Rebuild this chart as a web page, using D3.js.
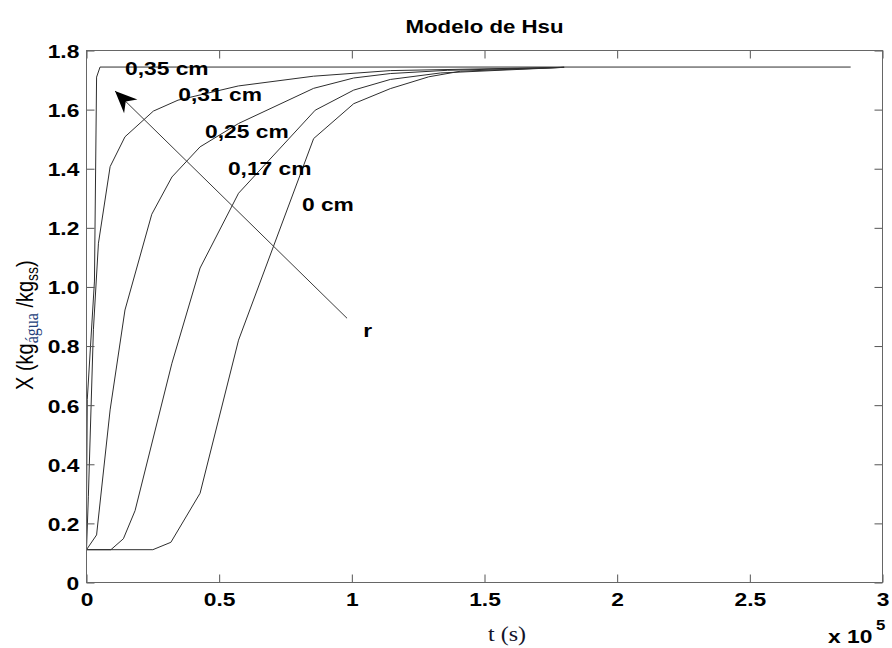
<!DOCTYPE html>
<html>
<head>
<meta charset="utf-8">
<script src="https://cdn.jsdelivr.net/npm/d3@7/dist/d3.min.js"></script>
<style>
  html, body { margin: 0; padding: 0; background: #fff; }
  svg { display: block; }
</style>
</head>
<body>
<svg id="chart" width="892" height="648"></svg>
<script>
// Drying curves (Hsu model): moisture content X vs time t for several radial positions r.
const xTickValues = [0, 50000, 100000, 150000, 200000, 250000, 300000];
const xTickLabels = ["0", "0.5", "1", "1.5", "2", "2.5", "3"];
const yTickValues = [0, 0.2, 0.4, 0.6, 0.8, 1.0, 1.2, 1.4, 1.6, 1.8];
const yTickLabels = ["0", "0.2", "0.4", "0.6", "0.8", "1.0", "1.2", "1.4", "1.6", "1.8"];

const seriesNames = ["0,35 cm", "0,31 cm", "0,25 cm", "0,17 cm", "0 cm"];

// time in seconds, X in kg water / kg dry solid
const t035 = [0, 300, 3000, 3800, 5100, 288000];
const x035 = [0.25, 0.62, 1.02, 1.71, 1.744, 1.744];

const t031 = [0, 700, 2600, 4500, 8900, 14500, 25200, 34500, 57200, 85500, 114500, 180000];
const x031 = [0.111, 0.29, 0.855, 1.148, 1.407, 1.508, 1.595, 1.632, 1.680, 1.713, 1.732, 1.743];

const t025 = [0, 3800, 8900, 14500, 24600, 32200, 42800, 57300, 85600, 100700, 114500, 136000, 180000];
const x025 = [0.111, 0.161, 0.584, 0.922, 1.246, 1.372, 1.474, 1.553, 1.672, 1.707, 1.722, 1.733, 1.743];

const t017 = [0, 9200, 13900, 18300, 32200, 42800, 57300, 86200, 100700, 114500, 133400, 180000];
const x017 = [0.111, 0.111, 0.148, 0.243, 0.742, 1.064, 1.317, 1.598, 1.666, 1.702, 1.724, 1.743];

const t000 = [0, 25000, 31800, 42800, 57300, 85600, 100700, 114500, 129000, 141000, 180000];
const x000 = [0.111, 0.111, 0.136, 0.302, 0.820, 1.502, 1.620, 1.671, 1.711, 1.730, 1.743];

const seriesT = [t035, t031, t025, t017, t000];
const seriesX = [x035, x031, x025, x017, x000];

// ---- layout ----
const svg = d3.select("#chart");
const W = 892, H = 648;
const plotL = 86.5, plotR = 882.5, plotT = 50.5, plotB = 582.5;
const SX = 1.2;                 // horizontal text stretch
const boldFont = "'Liberation Sans', Arial, Helvetica, sans-serif";

svg.append("rect").attr("width", W).attr("height", H).attr("fill", "#fff");

const x = d3.scaleLinear().domain([0, 300000]).range([plotL, plotR]);
const y = d3.scaleLinear().domain([0, 1.8]).range([plotB, plotT]);

// curves
const line = d3.line().x(d => x(d[0])).y(d => y(d[1]));
const curves = svg.append("g").attr("fill", "none").attr("stroke", "#2e2e2e").attr("stroke-width", 1);
seriesT.forEach((ts, i) => {
  const pts = ts.map((t, j) => [t, seriesX[i][j]]);
  curves.append("path").attr("d", line(pts));
});

// axes (ticks pointing inward on all four sides)
const xfmt = d => xTickLabels[xTickValues.indexOf(d)];
const yfmt = d => yTickLabels[yTickValues.indexOf(d)];

const gx = svg.append("g").attr("transform", `translate(0,${plotB})`)
  .call(d3.axisBottom(x).tickValues(xTickValues).tickFormat(xfmt).tickSizeInner(-8).tickSizeOuter(0));
const gy = svg.append("g").attr("transform", `translate(${plotL},0)`)
  .call(d3.axisLeft(y).tickValues(yTickValues).tickFormat(yfmt).tickSizeInner(-8).tickSizeOuter(0));
const gxt = svg.append("g").attr("transform", `translate(0,${plotT})`)
  .call(d3.axisTop(x).tickValues(xTickValues).tickFormat("").tickSizeInner(-8).tickSizeOuter(0));
const gyr = svg.append("g").attr("transform", `translate(${plotR},0)`)
  .call(d3.axisRight(y).tickValues(yTickValues).tickFormat("").tickSizeInner(-8).tickSizeOuter(0));

[gx, gy, gxt, gyr].forEach(g => {
  g.select(".domain").remove();
  g.selectAll(".tick line").attr("stroke", "#555");
});

gx.selectAll("text")
  .attr("y", 10.5).attr("dy", "0.71em")
  .attr("transform", `scale(${SX},1)`)
  .attr("font-family", boldFont).attr("font-weight", "bold").attr("font-size", 19).attr("fill", "#000");
gy.selectAll("text")
  .attr("x", -6).attr("dy", "0.36em")
  .attr("transform", `scale(${SX},1)`)
  .attr("font-family", boldFont).attr("font-weight", "bold").attr("font-size", 19).attr("fill", "#000");

// frame
svg.append("rect")
  .attr("x", plotL).attr("y", plotT).attr("width", plotR - plotL).attr("height", plotB - plotT)
  .attr("fill", "none").attr("stroke", "#666").attr("stroke-width", 1);

// text helper with horizontal stretch
function stretchedText(px, py, str, opts = {}) {
  return svg.append("text")
    .attr("transform", `translate(${px},${py}) scale(${opts.sx || SX},1)`)
    .attr("text-anchor", opts.anchor || "start")
    .attr("font-family", opts.family || boldFont)
    .attr("font-weight", opts.weight || "bold")
    .attr("font-size", opts.size || 19)
    .attr("fill", opts.fill || "#000")
    .text(str);
}

// title
stretchedText((plotL + plotR) / 2, 33, "Modelo de Hsu", { anchor: "middle", size: 19, sx: 1.17 });

// curve labels (time in s, X) of each label's baseline-left corner
const labelSpots = [[14500, 1.716], [34600, 1.628], [44700, 1.503], [53300, 1.378], [81200, 1.256]];
seriesNames.forEach((name, i) => {
  stretchedText(x(labelSpots[i][0]), y(labelSpots[i][1]), name);
});

// direction of increasing r
const arrowFrom = [98200, 0.894], arrowTo = [10750, 1.663];
const ax0 = x(arrowFrom[0]), ay0 = y(arrowFrom[1]), ax1 = x(arrowTo[0]), ay1 = y(arrowTo[1]);
svg.append("line")
  .attr("x1", ax0).attr("y1", ay0).attr("x2", ax1).attr("y2", ay1)
  .attr("stroke", "#3a3a3a").attr("stroke-width", 1);
{
  const dx = ax0 - ax1, dy = ay0 - ay1, L = Math.hypot(dx, dy);
  const ux = dx / L, uy = dy / L, px = -uy, py = ux;
  const len = 22, half = 9.5, notch = 15;
  const p = [
    [ax1, ay1],
    [ax1 + ux * len + px * half, ay1 + uy * len + py * half],
    [ax1 + ux * notch, ay1 + uy * notch],
    [ax1 + ux * len - px * half, ay1 + uy * len - py * half]
  ];
  svg.append("path").attr("d", "M" + p.map(q => q.join(",")).join("L") + "Z").attr("fill", "#000");
}
stretchedText(x(104300), y(0.830), "r");

// x-axis label and exponent
stretchedText(507, 641, "t (s)", { anchor: "middle", family: "'Liberation Serif', 'Times New Roman', serif", weight: "normal", size: 20, fill: "#14142a" });
stretchedText(828, 643, "x 10");
stretchedText(876, 630, "5", { size: 14 });

// y-axis label
const yl = svg.append("text")
  .attr("transform", `translate(33,390) scale(${SX},1) rotate(-90)`)
  .attr("font-family", "'Liberation Sans', Arial, sans-serif")
  .attr("font-size", 20).attr("fill", "#000");
yl.append("tspan").text("X (kg");
yl.append("tspan").attr("dy", 4).attr("font-size", 16)
  .attr("font-family", "'Liberation Serif', 'Times New Roman', serif").attr("fill", "#23407a").text("água");
yl.append("tspan").attr("dy", -4).text(" /kg");
yl.append("tspan").attr("dy", 4).attr("font-size", 14).text("ss");
yl.append("tspan").attr("dy", -4).text(")");
</script>
</body>
</html>
